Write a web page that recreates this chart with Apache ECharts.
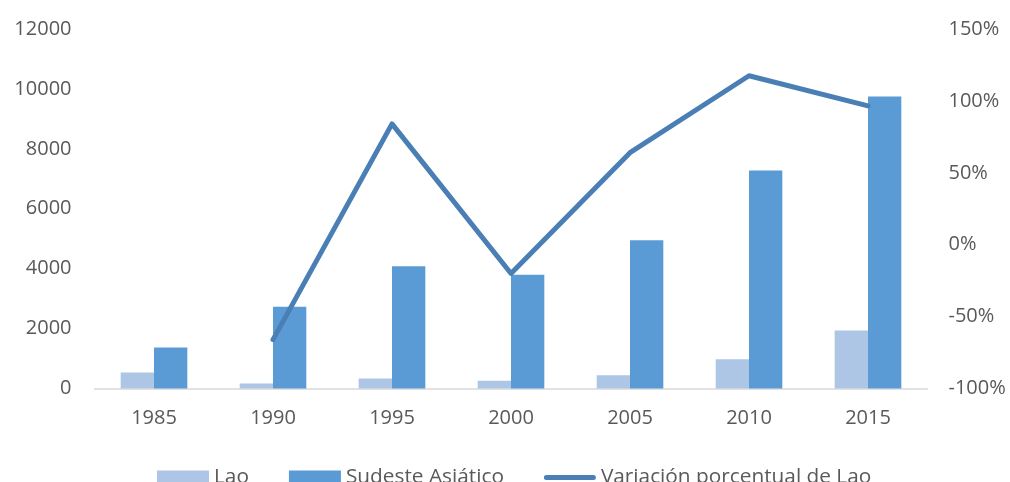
<!DOCTYPE html>
<html>
<head>
<meta charset="utf-8">
<script src="https://cdn.jsdelivr.net/npm/echarts@6/dist/echarts.min.js"></script>
<style>html,body{margin:0;padding:0;background:#fff;}#chart{width:1010px;height:482px;}</style>
</head>
<body>
<div id="chart"></div>
<script>
const categories = ['1985', '1990', '1995', '2000', '2005', '2010', '2015'];
const laoValues = [530, 170, 330, 260, 440, 980, 1940];
const sudesteValues = [1370, 2730, 4080, 3800, 4950, 7280, 9750];
const variacionValues = [null, -66, 84, -20, 64, 117.5, 96.5];
const seriesNames = ['Lao', 'Sudeste Asiático', 'Variación porcentual de Lao'];

const font = 'Open Sans';
const textColor = '#595959';
const lineIcon = 'path://M0,0 L0.001,0 L0,0.001 Z M2.5,4.5 L49.5,4.5 A2.5,2.5 0 0 1 49.5,9.5 L2.5,9.5 A2.5,2.5 0 0 1 2.5,4.5 Z M52,14 L51.999,14 L52,13.999 Z';
const chart = echarts.init(document.getElementById('chart'), null, {renderer: 'canvas'});
chart.setOption({
  animation: false,
  backgroundColor: '#ffffff',
  grid: {left: 94.5, right: 82.5, top: 29, bottom: 93.5, containLabel: false},
  legend: {
    left: 157, top: 467, padding: 0,
    itemWidth: 52, itemHeight: 14, itemGap: 40,
    textStyle: {fontFamily: font, fontSize: 20.8, color: textColor},
    data: [
      {name: seriesNames[0], icon: 'rect'},
      {name: seriesNames[1], icon: 'rect'},
      {name: seriesNames[2], icon: lineIcon, itemStyle: {color: '#4a7fb5'}}
    ]
  },
  xAxis: {
    type: 'category', data: categories,
    axisLine: {show: true, lineStyle: {color: '#d9d9d9', width: 1.5}},
    axisTick: {show: false},
    axisLabel: {fontFamily: font, fontSize: 20, color: textColor, margin: 20}
  },
  yAxis: [
    {
      type: 'value', min: 0, max: 12000, interval: 2000,
      axisLine: {show: false}, axisTick: {show: false}, splitLine: {show: false},
      axisLabel: {fontFamily: font, fontSize: 20, color: textColor, margin: 23, formatter: function (v) { return String(v); }}
    },
    {
      type: 'value', min: -100, max: 150, interval: 50, position: 'right',
      axisLine: {show: false}, axisTick: {show: false}, splitLine: {show: false},
      axisLabel: {fontFamily: font, fontSize: 20, color: textColor, margin: 21, formatter: '{value}%'}
    }
  ],
  series: [
    {
      name: seriesNames[0], type: 'bar', data: laoValues,
      barGap: '0%', barCategoryGap: '44%',
      itemStyle: {color: '#adc6e6'}
    },
    {
      name: seriesNames[1], type: 'bar', data: sudesteValues,
      barGap: '0%', barCategoryGap: '44%',
      itemStyle: {color: '#5b9bd5'}
    },
    {
      name: seriesNames[2], type: 'line', yAxisIndex: 1, data: variacionValues,
      symbol: 'none', showSymbol: false, connectNulls: false,
      lineStyle: {color: '#4a7fb5', width: 5, cap: 'round', join: 'round'},
      itemStyle: {color: '#4a7fb5'}
    }
  ]
});
</script>
</body>
</html>
